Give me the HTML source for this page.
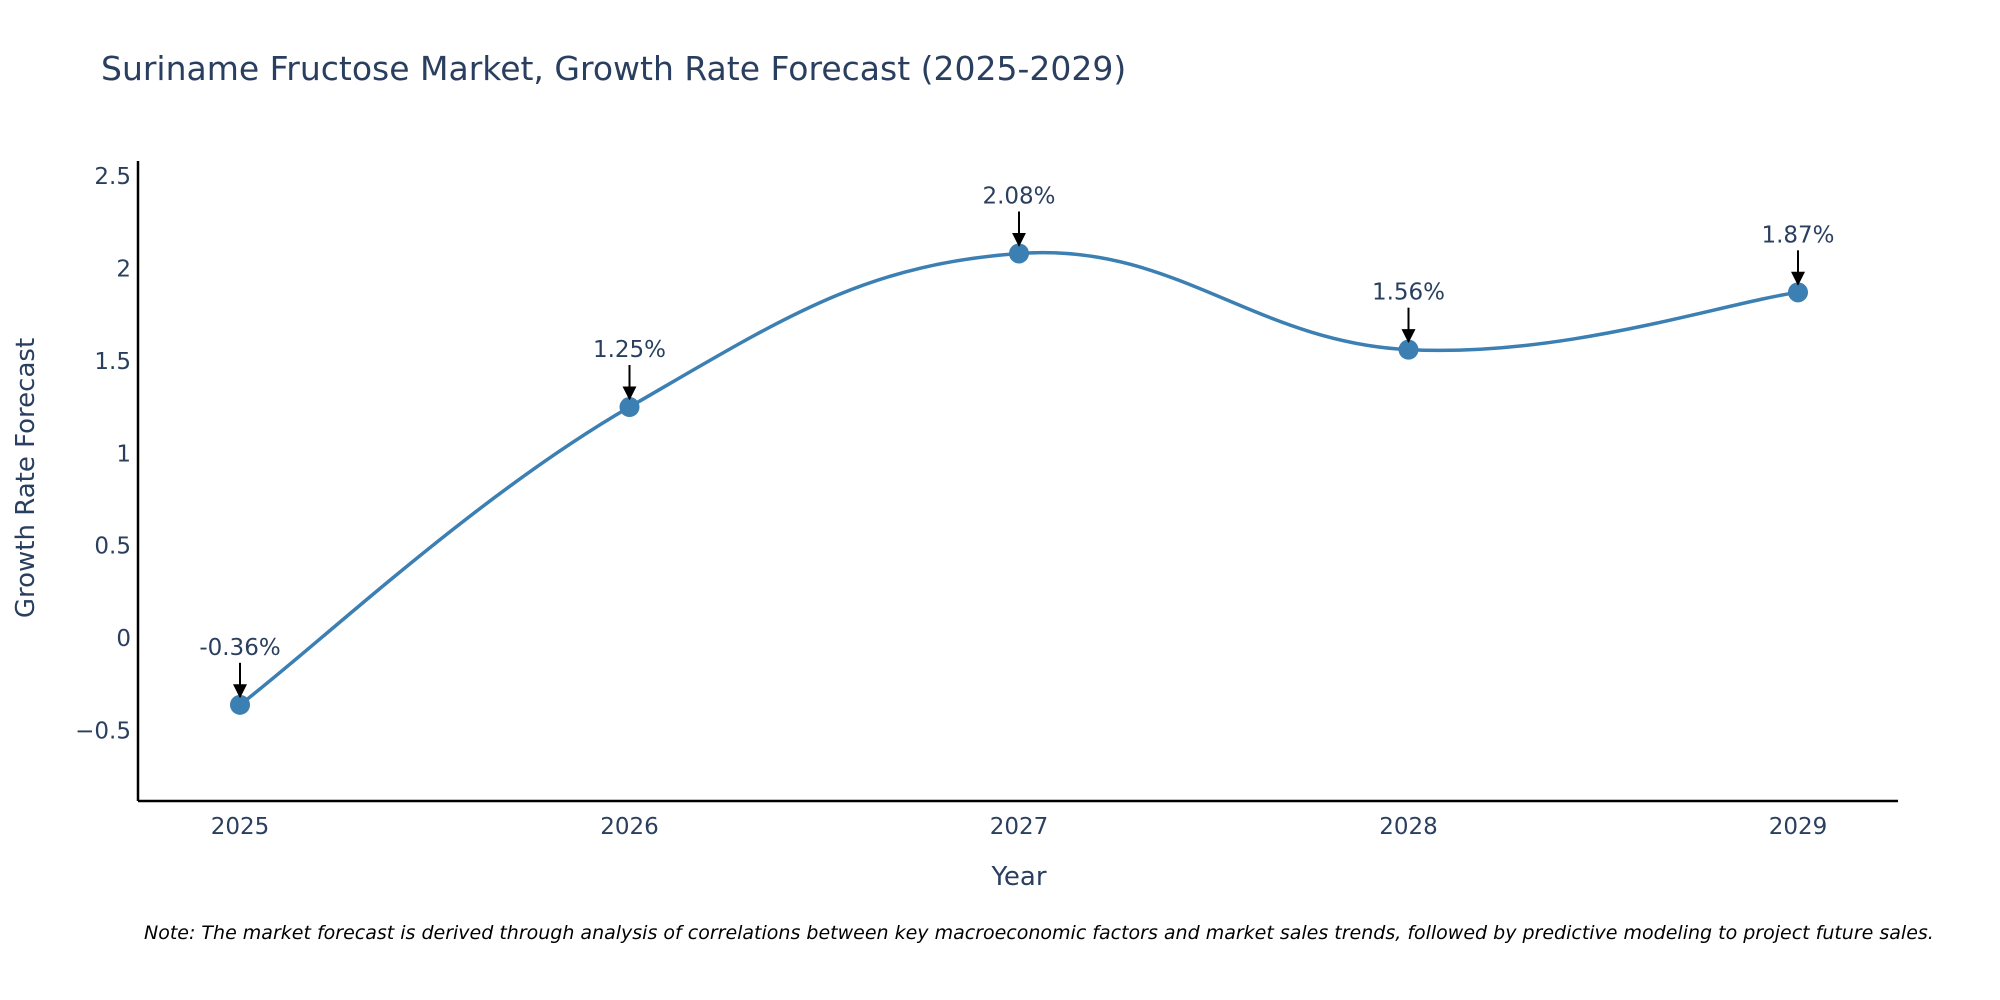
<!DOCTYPE html>
<html><head><meta charset="utf-8"><style>
body{margin:0;background:#fff;}
svg{display:block;font-family:"DejaVu Sans","Liberation Sans",sans-serif;}
</style></head><body>
<svg id="chart" width="2000" height="1000" viewBox="0 0 2000 1000" xmlns="http://www.w3.org/2000/svg">
<defs><marker id="ah" viewBox="0 0 10 10" refX="9" refY="5" markerWidth="7" markerHeight="7" markerUnits="strokeWidth" orient="auto"><path d="M0,0 L10,5 L0,10 z" fill="#000"/></marker></defs>
<text x="101" y="80" font-size="33" fill="#2a3f5f">Suriname Fructose Market, Growth Rate Forecast (2025-2029)</text>
<g id="axes"></g>
<g id="series"></g>
<text x="1019" y="885" font-size="26" fill="#2a3f5f" text-anchor="middle">Year</text>
<text transform="translate(34,478) rotate(-90)" font-size="26" fill="#2a3f5f" text-anchor="middle">Growth Rate Forecast</text>
<text x="144" y="939" font-size="19" font-style="italic" fill="#000">Note: The market forecast is derived through analysis of correlations between key macroeconomic factors and market sales trends, followed by predictive modeling to project future sales.</text>
</svg>
<script>
const years = [2025, 2026, 2027, 2028, 2029];
const growth = [-0.36, 1.25, 2.08, 1.56, 1.87];
const yTicks = [-0.5, 0, 0.5, 1, 1.5, 2, 2.5];
const yTickLabels = ["\u22120.5", "0", "0.5", "1", "1.5", "2", "2.5"];

const NS = "http://www.w3.org/2000/svg";
const L = 138, R = 1898, T = 161, B = 801;
const yMin = -0.88, yMax = 2.58;
const xs = v => 240 + (v - 2025) * (1798 - 240) / 4;
const ys = v => B - (v - yMin) / (yMax - yMin) * (B - T);
function mk(tag, attrs, parent) { const e = document.createElementNS(NS, tag); for (const k in attrs) e.setAttribute(k, attrs[k]); parent.appendChild(e); return e; }
const axes = document.getElementById('axes'), series = document.getElementById('series');

let e = mk('line', {x1: L, y1: T, x2: L, y2: B, stroke: '#000', 'stroke-width': 2.5}, axes);


e = mk('line', {x1: L, y1: B, x2: R, y2: B, stroke: '#000', 'stroke-width': 2.5}, axes);



yTicks.forEach((v, i) => {
  const t = mk('text', {x: 131, y: ys(v) + 8, 'font-size': 23, fill: '#2a3f5f', 'text-anchor': 'end'}, axes);
  t.textContent = yTickLabels[i];
  
  
});
years.forEach(v => {
  const t = mk('text', {x: xs(v), y: 834, 'font-size': 23, fill: '#2a3f5f', 'text-anchor': 'middle'}, axes);
  t.textContent = String(v);
  
  
});

const pts = years.map((y, i) => [xs(y), ys(growth[i])]);
let d = 'M' + pts[0][0] + ',' + pts[0][1];
const k = 0.6;
for (let i = 0; i < pts.length - 1; i++) {
  const p0 = pts[Math.max(i - 1, 0)], p1 = pts[i], p2 = pts[i + 1], p3 = pts[Math.min(i + 2, pts.length - 1)];
  const c1 = [p1[0] + (p2[0] - p0[0]) * k / 3, p1[1] + (p2[1] - p0[1]) * k / 3];
  const c2 = [p2[0] - (p3[0] - p1[0]) * k / 3, p2[1] - (p3[1] - p1[1]) * k / 3];
  d += ' C' + c1.join(',') + ' ' + c2.join(',') + ' ' + p2.join(',');
}
const line = mk('path', {d: d, fill: 'none', stroke: '#3b7fb3', 'stroke-width': 3.5}, series);



pts.forEach((p, i) => {
  const c = mk('circle', {cx: p[0], cy: p[1], r: 10, fill: '#3b7fb3'}, series);
  
  
  const a = mk('line', {x1: p[0], y1: p[1] - 42, x2: p[0], y2: p[1] - 8, stroke: '#000', 'stroke-width': 2, 'marker-end': 'url(#ah)'}, series);
  
  
  const t = mk('text', {x: p[0], y: p[1] - 50, 'font-size': 23, fill: '#2a3f5f', 'text-anchor': 'middle'}, series);
  t.textContent = growth[i].toFixed(2) + '%';
  
  
});
</script>
</body></html>
